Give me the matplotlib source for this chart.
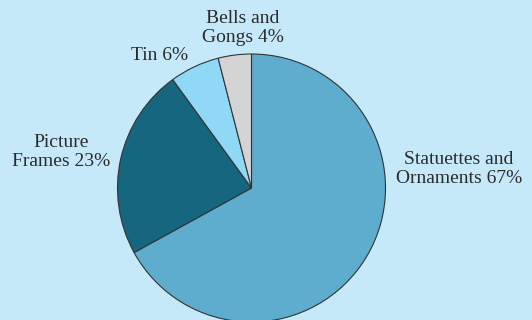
import matplotlib.pyplot as plt

categories = ["Statuettes and\nOrnaments", "Picture\nFrames", "Tin", "Bells and\nGongs"]
shares = [67, 23, 6, 4]
colors = ["#5eadcf", "#176680", "#8fd9f6", "#d4d4d4"]

# label anchor points in pixel coords (x, y from top)
label_pos = [(459, 169), (61, 152), (160, 55), (243, 28)]

bg = "#c6e9f9"
fig = plt.figure(figsize=(5.32, 3.2), dpi=100, facecolor=bg)
ax = fig.add_axes([0, 0, 1, 1])
ax.set_facecolor(bg)

ax.pie(shares, colors=colors, startangle=90, counterclock=False,
       center=(251.5, 320 - 188), radius=134, frame=True,
       wedgeprops=dict(edgecolor="#333333", linewidth=0.8))
ax.set_xlim(0, 532)
ax.set_ylim(0, 320)
ax.axis("off")

for name, val, (x, y) in zip(categories, shares, label_pos):
    ax.text(x, 320 - y, f"{name} {val}%", ha="center", va="center",
            fontsize=14, family="Liberation Serif", color="#2b2b2b",
            linespacing=1.1)

fig.savefig("out.png", dpi=100, facecolor=bg)
